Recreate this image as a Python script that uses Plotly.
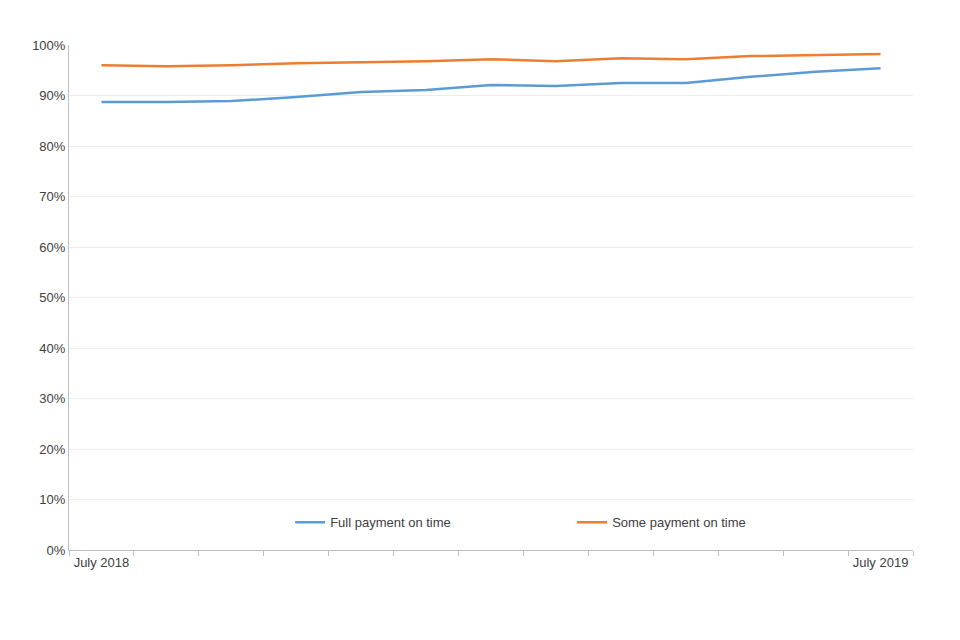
import plotly.graph_objects as go

months = ["July 2018", "Aug 2018", "Sep 2018", "Oct 2018", "Nov 2018", "Dec 2018", "Jan 2019",
          "Feb 2019", "Mar 2019", "Apr 2019", "May 2019", "Jun 2019", "July 2019"]
full_payment = [88.7, 88.7, 88.9, 89.7, 90.7, 91.1, 92.1, 91.9, 92.5, 92.5, 93.7, 94.7, 95.4]
some_payment = [96.0, 95.8, 96.0, 96.4, 96.6, 96.8, 97.2, 96.8, 97.4, 97.2, 97.8, 98.0, 98.2]
tick_labels = ["July 2018"] + [""] * 11 + ["July 2019"]

fig = go.Figure()
fig.add_trace(go.Scatter(x=months, y=full_payment, mode="lines", name="Full payment on time",
                         line=dict(color="#5b9bd5", width=2.5)))
fig.add_trace(go.Scatter(x=months, y=some_payment, mode="lines", name="Some payment on time",
                         line=dict(color="#ed7d31", width=2.5)))

fig.update_layout(
    width=960, height=640,
    margin=dict(l=61, r=55, t=37, b=98),
    plot_bgcolor="white", paper_bgcolor="white",
    font=dict(family="Liberation Sans, Arial", size=13, color="#404040"),
    legend=dict(orientation="h", x=0.262, xanchor="left", y=0.055, yanchor="middle",
                bgcolor="rgba(0,0,0,0)", font=dict(size=13), itemwidth=30,
                entrywidth=237, entrywidthmode="pixels"),
    showlegend=True,
)
fig.update_xaxes(type="category", tickmode="array", tickvals=months, ticktext=tick_labels,
                 tickson="boundaries", ticks="outside", ticklen=5, tickcolor="#bfbfbf",
                 showline=True, linecolor="#bfbfbf", showgrid=False, range=[-0.5, 12.5])
fig.update_yaxes(range=[0, 100], dtick=10, ticksuffix="%", showgrid=True, gridcolor="#ececec",
                 showline=True, linecolor="#bfbfbf", zeroline=False)

fig.write_html("out.html")
